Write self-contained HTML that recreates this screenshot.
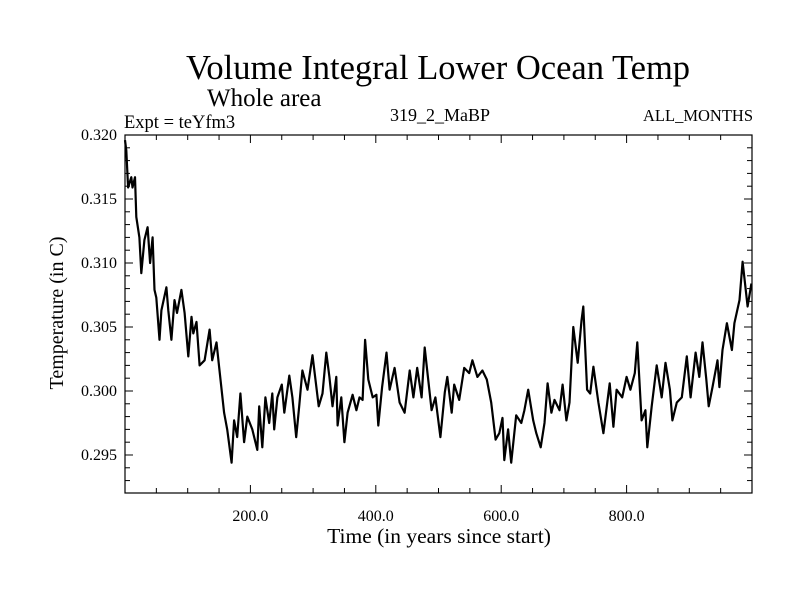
<!DOCTYPE html>
<html><head><meta charset="utf-8"><style>
html,body{margin:0;padding:0;background:#fff;}
svg text{font-family:"Liberation Serif",serif;fill:#000;}
</style></head><body>
<svg id="chart" width="800" height="600" xmlns="http://www.w3.org/2000/svg">
<rect width="800" height="600" fill="#fff"/>
<text x="438" y="79" font-size="34.5" text-anchor="middle">Volume Integral Lower Ocean Temp</text>
<text x="207" y="106" font-size="25">Whole area</text>
<text x="124" y="128" font-size="18.5">Expt = teYfm3</text>
<text x="440" y="121" font-size="18" text-anchor="middle">319_2_MaBP</text>
<text x="753" y="121" font-size="16.5" text-anchor="end">ALL_MONTHS</text>
<text transform="translate(63,313) rotate(-90)" font-size="20" text-anchor="middle">Temperature (in C)</text>
<text x="439" y="543" font-size="21.5" text-anchor="middle">Time (in years since start)</text>
<g id="axes"></g>
<g id="series"></g>
<rect x="125" y="135" width="627" height="358" fill="none" stroke="#000" stroke-width="1.2"/>
</svg>
<script>
const years=[0,2,5,10,12,16,18,23,26,31,36,40,44,47,50,55,58,66,69,74,79,83,90,95,101,106,109,114,119,127,135,139,146,150,158,163,170,174,179,184,190,195,203,211,214,219,224,230,235,238,243,250,254,262,267,273,278,283,291,299,309,315,321,326,331,337,339,345,350,355,363,369,374,379,383,388,395,401,404,410,417,422,430,438,446,454,460,466,473,478,482,489,495,503,510,514,521,525,533,541,549,554,562,570,577,584,591,597,602,605,611,616,624,632,637,643,651,656,663,669,674,680,685,693,698,704,709,715,722,728,731,737,742,747,755,763,773,779,784,793,800,806,813,817,824,830,833,840,848,856,862,869,873,880,888,896,902,910,916,921,927,931,937,945,948,953,960,968,972,980,985,993,999];
const temps=[0.3196,0.3188,0.3159,0.3167,0.3159,0.3167,0.3136,0.3120,0.3092,0.3118,0.3128,0.3100,0.3120,0.3079,0.3073,0.3040,0.3063,0.3081,0.3063,0.3040,0.3071,0.3061,0.3079,0.3061,0.3027,0.3058,0.3045,0.3054,0.3020,0.3024,0.3048,0.3024,0.3038,0.3019,0.2983,0.2970,0.2944,0.2977,0.2964,0.2998,0.2960,0.2980,0.2970,0.2954,0.2988,0.2956,0.2995,0.2975,0.2998,0.2970,0.2995,0.3005,0.2983,0.3012,0.2995,0.2964,0.2989,0.3016,0.3001,0.3028,0.2988,0.2998,0.3030,0.3011,0.2988,0.3011,0.2973,0.2995,0.2960,0.2983,0.2997,0.2985,0.2995,0.2993,0.3040,0.3009,0.2995,0.2997,0.2973,0.3003,0.3030,0.3001,0.3018,0.2991,0.2983,0.3016,0.2995,0.3018,0.2995,0.3034,0.3016,0.2985,0.2995,0.2964,0.2999,0.3011,0.2983,0.3005,0.2993,0.3018,0.3014,0.3024,0.3011,0.3016,0.3009,0.2991,0.2962,0.2967,0.2979,0.2946,0.2970,0.2944,0.2981,0.2975,0.2985,0.3001,0.2977,0.2967,0.2956,0.2975,0.3006,0.2983,0.2993,0.2985,0.3005,0.2977,0.2991,0.3050,0.3022,0.3055,0.3066,0.3001,0.2998,0.3019,0.2991,0.2967,0.3006,0.2972,0.3001,0.2995,0.3011,0.3001,0.3014,0.3038,0.2977,0.2985,0.2956,0.2988,0.3020,0.2995,0.3022,0.3001,0.2977,0.2991,0.2995,0.3027,0.2995,0.3030,0.3011,0.3038,0.3010,0.2988,0.3003,0.3024,0.3003,0.3032,0.3053,0.3032,0.3053,0.3071,0.3101,0.3066,0.3084];
const xTicks=[200,400,600,800];
const xTickLabels=["200.0","400.0","600.0","800.0"];
const yTicks=[0.295,0.300,0.305,0.310,0.315,0.320];
const yTickLabels=["0.295","0.300","0.305","0.310","0.315","0.320"];
const X0=125,X1=752,Y0=493,Y1=135,XMIN=0,XMAX=1000,YMIN=0.29203,YMAX=0.320;
function sx(v){return X0+(v-XMIN)/(XMAX-XMIN)*(X1-X0);}
function sy(v){return Y0-(v-YMIN)/(YMAX-YMIN)*(Y0-Y1);}
const NS="http://www.w3.org/2000/svg";
const axes=document.getElementById('axes');
function line(x1,y1,x2,y2,name){
  const l=document.createElementNS(NS,'line');
  l.setAttribute('x1',x1);l.setAttribute('y1',y1);l.setAttribute('x2',x2);l.setAttribute('y2',y2);
  l.setAttribute('stroke','#000');l.setAttribute('stroke-width','1');
  
  
  axes.appendChild(l);
}
function text(x,y,s,anchor,name){
  const t=document.createElementNS(NS,'text');
  t.setAttribute('x',x);t.setAttribute('y',y);t.setAttribute('font-size','16');t.setAttribute('text-anchor',anchor);
  t.textContent=s;
  
  
  axes.appendChild(t);
}
for(let v=50;v<1000;v+=50){
  const major=(v%200===0);const L=major?8:5;const x=sx(v);
  line(x,Y0,x,Y0-L,'x-tick');
  line(x,Y1,x,Y1+L,'x-tick-top');
}
xTicks.forEach((v,i)=>text(sx(v),521,xTickLabels[i],'middle','x-tick-label'));
for(let k=293;k<=320;k++){
  const v=k/1000;const major=(k%5===0);const L=major?8:5;const y=sy(v);
  line(X0,y,X0+L,y,'y-tick');
  line(X1,y,X1-L,y,'y-tick-right');
}
yTicks.forEach((v,i)=>text(117,sy(v)+5,yTickLabels[i],'end','y-tick-label'));
const p=document.createElementNS(NS,'polyline');
p.setAttribute('points',years.map((y,i)=>sx(y).toFixed(1)+','+sy(temps[i]).toFixed(1)).join(' '));
p.setAttribute('fill','none');p.setAttribute('stroke','#000');p.setAttribute('stroke-width','2.2');p.setAttribute('stroke-linejoin','round');


document.getElementById('series').appendChild(p);
</script>
</body></html>
